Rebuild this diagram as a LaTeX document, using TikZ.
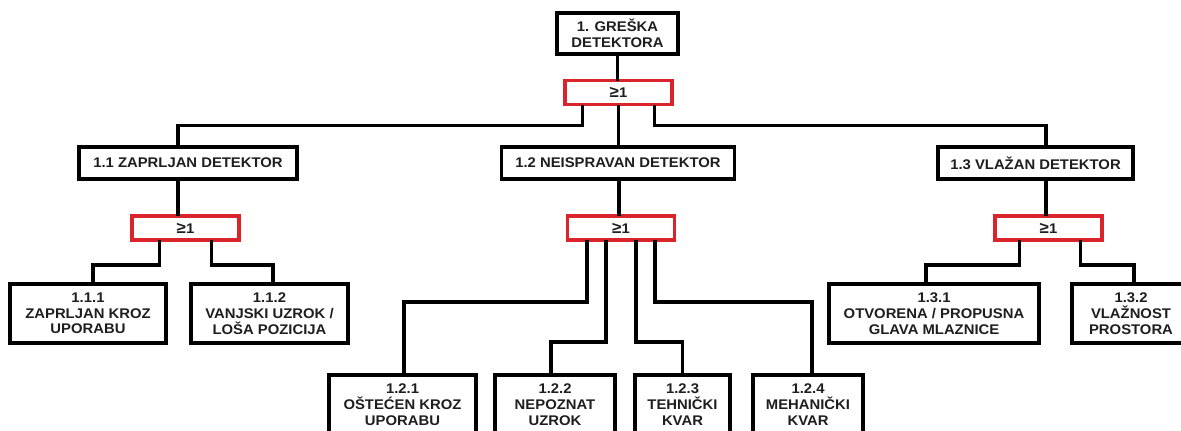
\documentclass[tikz,border=0pt]{standalone}
\usepackage{fontspec}
\setmainfont{Liberation Sans}[FakeStretch=1.06]
\usetikzlibrary{calc}
\definecolor{gatered}{RGB}{218,36,44}
\definecolor{inkgray}{RGB}{30,30,30}

\begin{document}
\begin{tikzpicture}[
  x=0.75pt, y=-0.75pt,
  every node/.style={font=\bfseries\fontsize{10.5}{11.8}\selectfont, text=inkgray},
  event/.style={draw=black, line width=2.5pt, fill=white, align=center, inner sep=0pt, outer sep=0pt},
  gate/.style={draw=gatered, line width=2.3pt, fill=white, inner sep=0pt, outer sep=0pt, minimum width=107*0.75pt, minimum height=24*0.75pt},
  sz/.style 2 args={minimum width=#1*0.75pt, minimum height=#2*0.75pt},
  wire/.style={line width=2.5pt}
]
\fill[white] (0,0) rectangle (1181,430);
\useasboundingbox (0,0) rectangle (1181,430);

% Top event and gate
\node[event, sz={121}{41}] (top) at (617.5,33.5) {1. GREŠKA\\DETEKTORA};
\node[gate] (g1) at (618.5,92.5) {{\large ≥}1};

% Intermediate events
\node[event, sz={218}{32}] (n11) at (188,163) {1.1 ZAPRLJAN DETEKTOR};
\node[event, sz={233}{32}] (n12) at (618,163) {1.2 NEISPRAVAN DETEKTOR};
\node[event, sz={195}{32}] (n13) at (1035.5,163) {1.3 VLAŽAN DETEKTOR};
\node[gate] (g11) at (185.5,228) {{\large ≥}1};
\node[gate] (g12) at (621,228) {{\large ≥}1};
\node[gate] (g13) at (1048.5,228) {{\large ≥}1};

% Basic events
\node[event, sz={156}{59}] (n111) at (88,313.5) {1.1.1\\ZAPRLJAN KROZ\\UPORABU};
\node[event, sz={157}{59}] (n112) at (269.5,313.5) {1.1.2\\VANJSKI UZROK /\\LOŠA POZICIJA};
\node[event, sz={147}{59}] (n121) at (402.5,404.5) {1.2.1\\OŠTEĆEN KROZ\\UPORABU};
\node[event, sz={120}{59}] (n122) at (555,404.5) {1.2.2\\NEPOZNAT\\UZROK};
\node[event, sz={95}{59}] (n123) at (682.5,404.5) {1.2.3\\TEHNIČKI\\KVAR};
\node[event, sz={110}{59}] (n124) at (808,404.5) {1.2.4\\MEHANIČKI\\KVAR};
\node[event, sz={210}{59}] (n131) at (934,313.5) {1.3.1\\OTVORENA / PROPUSNA\\GLAVA MLAZNICE};
\node[event, sz={118}{59}] (n132) at (1131,313.5) {1.3.2\\VLAŽNOST\\PROSTORA};

% Top level wires
\draw[wire] (top.south) -- (top.south |- g1.north);
\draw[wire] ($(g1.south)+(-36,0)$) -- ++(0,21) -| ($(n11.north)+(-10,0)$);
\draw[wire] (g1.south) -- (g1.south |- n12.north);
\draw[wire] ($(g1.south)+(36,0)$) -- ++(0,21) -| ($(n13.north)+(10.5,0)$);

% Branch 1.1
\draw[wire] ($(n11.south)+(-10,0)$) coordinate (a) -- (a |- g11.north);
\draw[wire] ($(g11.south)+(-26,0)$) -- ++(0,25) -| ($(n111.north)+(5,0)$);
\draw[wire] ($(g11.south)+(26,0)$) -- ++(0,25) -| ($(n112.north)+(3.5,0)$);

% Branch 1.2
\draw[wire] ($(n12.south)+(1,0)$) coordinate (b) -- (b |- g12.north);
\draw[wire] ($(g12.south)+(-34,0)$) -- ++(0,62) -| ($(n121.north)+(1.5,0)$);
\draw[wire] ($(g12.south)+(-15,0)$) -- ++(0,102) -| ($(n122.north)+(-4,0)$);
\draw[wire] ($(g12.south)+(15,0)$) -- ++(0,102) -| (n123.north);
\draw[wire] ($(g12.south)+(34,0)$) -- ++(0,62) -| ($(n124.north)+(4,0)$);

% Branch 1.3
\draw[wire] ($(n13.south)+(10.5,0)$) coordinate (c) -- (c |- g13.north);
\draw[wire] ($(g13.south)+(-29,0)$) -- ++(0,25) -| ($(n131.north)+(-8,0)$);
\draw[wire] ($(g13.south)+(32,0)$) -- ++(0,25) -| ($(n132.north)+(3,0)$);
\end{tikzpicture}
\end{document}
